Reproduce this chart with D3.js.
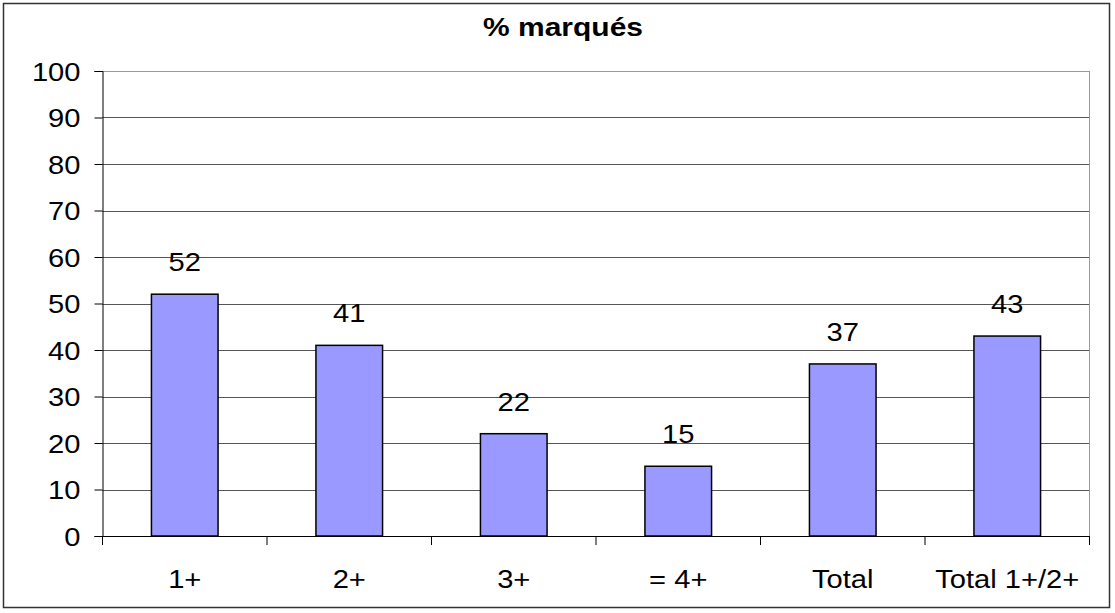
<!DOCTYPE html>
<html><head><meta charset="utf-8">
<script src="https://cdn.jsdelivr.net/npm/d3@7/dist/d3.min.js"></script>
<style>body{margin:0;background:#fff}svg{display:block}text{font-family:Arial,"Liberation Sans",sans-serif}</style>
</head><body>
<script>
const categories = ["1+", "2+", "3+", "= 4+", "Total", "Total 1+/2+"];
const values = [52, 41, 22, 15, 37, 43];
const yTicks = [0, 10, 20, 30, 40, 50, 60, 70, 80, 90, 100];
const title = "% marqués";

const W = 1115, H = 613;
const L = 102.5, R = 1089.5, T = 71, B = 536;
const FS = 26, STRETCH = 1.12;
const svg = d3.select("body").append("svg").attr("width", W).attr("height", H);
svg.append("rect").attr("x", 0).attr("y", 0).attr("width", W).attr("height", H).attr("fill", "#fff");
svg.append("rect").attr("x", 3.5).attr("y", 3.5).attr("width", 1106).attr("height", 604)
  .attr("fill", "none").attr("stroke", "#333").attr("stroke-width", 1.5);

function stretch(sel, f) {
  sel.each(function () {
    const w = this.getComputedTextLength();
    d3.select(this).attr("textLength", w * f).attr("lengthAdjust", "spacingAndGlyphs");
  });
}

const x = d3.scaleBand().domain(categories).range([L, R]);
const y = d3.scaleLinear().domain([0, 100]).range([B, T]);

// gridlines
svg.append("g").selectAll("line").data(yTicks.filter(d => d > 0)).join("line")
  .attr("x1", L).attr("x2", R).attr("y1", d => Math.round(y(d)) + 0.5).attr("y2", d => Math.round(y(d)) + 0.5)
  .attr("stroke", d => d === 100 ? "#999" : "#555").attr("stroke-width", 1);
svg.append("line").attr("x1", R).attr("x2", R).attr("y1", T).attr("y2", B).attr("stroke", "#999");

// y axis
const yAxis = svg.append("g").attr("transform", `translate(${L},0)`)
  .call(d3.axisLeft(y).tickValues(yTicks).tickSize(8).tickPadding(14));
yAxis.select(".domain").attr("stroke", "#000");
yAxis.selectAll(".tick line").attr("stroke", "#000");
yAxis.selectAll("text").attr("font-size", FS).attr("fill", "#000").attr("dy", "0.36em")
  .attr("font-family", "Arial, 'Liberation Sans', sans-serif").call(stretch, STRETCH);

// bars
const bw = x.bandwidth() * 0.405;
svg.append("g").selectAll("rect").data(values).join("rect")
  .attr("x", (d, i) => x(categories[i]) + (x.bandwidth() - bw) / 2)
  .attr("y", d => y(d)).attr("width", bw).attr("height", d => y(0) - y(d))
  .attr("fill", "#9999FF").attr("stroke", "#000").attr("stroke-width", 1.5);

// x axis
const xg = svg.append("g");
xg.append("line").attr("x1", L).attr("x2", R).attr("y1", B + 0.5).attr("y2", B + 0.5).attr("stroke", "#000");
const bounds = categories.map(c => x(c)).concat([R]);
xg.selectAll("line.t").data(bounds).join("line").attr("class", "t")
  .attr("x1", d => d).attr("x2", d => d).attr("y1", B).attr("y2", B + 9).attr("stroke", "#000");
xg.selectAll("text").data(categories).join("text")
  .attr("x", d => x(d) + x.bandwidth() / 2).attr("y", 588)
  .attr("text-anchor", "middle").attr("font-size", FS).text(d => d).call(stretch, STRETCH);

// value labels
svg.append("g").selectAll("text").data(values).join("text")
  .attr("x", (d, i) => x(categories[i]) + x.bandwidth() / 2).attr("y", d => y(d) - 23)
  .attr("text-anchor", "middle").attr("font-size", FS).text(d => d).call(stretch, STRETCH);

svg.append("text").attr("x", 563).attr("y", 36).attr("text-anchor", "middle")
  .attr("font-size", 25).attr("font-weight", "bold").text(title)
  .attr("textLength", 160).attr("lengthAdjust", "spacingAndGlyphs");
</script>
</body></html>
